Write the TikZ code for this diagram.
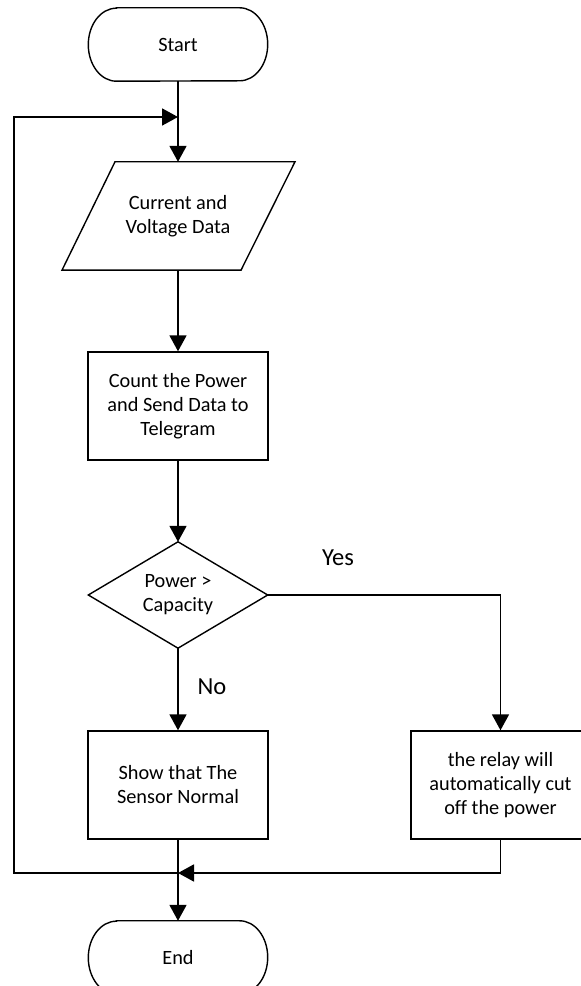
\documentclass[tikz,border=0pt]{standalone}
\usepackage{fontspec}
\setmainfont{Carlito}[Ligatures=NoCommon]
\usetikzlibrary{arrows.meta}
\begin{document}
\begin{tikzpicture}[x=1pt,y=1pt,
  shapeline/.style={draw=black, line width=1.4pt, line join=miter},
  txt/.style={font=\fontsize{20.3}{24}\selectfont, align=center, inner sep=0pt, text=black},
  boxnode/.style={txt, draw=black, line width=1.4pt, minimum width=180pt, minimum height=108pt},
  ghost/.style={txt, minimum width=180pt, minimum height=108pt},
  termnode/.style={txt, minimum width=179pt, minimum height=73pt},
  conn/.style={line width=1.8pt, draw=black, -{Triangle[length=16pt,width=17pt]}},
  lab/.style={font=\fontsize{24.5}{29}\selectfont, inner sep=0pt, text=black}]
\useasboundingbox (0,0) rectangle (581,986);
\clip (0,0) rectangle (581,986);
\fill[white] (0,0) rectangle (581,986);

% nodes
\node[termnode] (start) at (178,941.5) {Start};
\node[ghost] (data) at (178,770) {Current and\\Voltage Data};
\node[boxnode] (count) at (178,580) {Count the Power\\and Send Data to\\Telegram};
\node[ghost, minimum width=179pt, minimum height=106pt] (dec) at (178,391) {Power >\\Capacity};
\node[boxnode] (show) at (178,201) {Show that The\\Sensor Normal};
\node[boxnode, minimum width=179pt] (relay) at (500.5,201) {the relay will\\automatically cut\\off the power};
\node[termnode] (stop) at (178,28.5) {End};
\node[lab] (yes) at (338,428) {Yes};
\node[lab] (no) at (212,299) {No};

% outlines
\draw[shapeline] ([xshift=28pt]start.north west) -- ([xshift=-28pt]start.north east)
  arc[start angle=90, end angle=-90, x radius=28pt, y radius=36.5pt]
  -- ([xshift=28pt]start.south west)
  arc[start angle=270, end angle=90, x radius=28pt, y radius=36.5pt] -- cycle;
\draw[shapeline] ([xshift=28pt]stop.north west) -- ([xshift=-28pt]stop.north east)
  arc[start angle=90, end angle=-90, x radius=28pt, y radius=36.5pt]
  -- ([xshift=28pt]stop.south west)
  arc[start angle=270, end angle=90, x radius=28pt, y radius=36.5pt] -- cycle;
\draw[shapeline] ([xshift=-63pt]data.north) -- ([xshift=117pt]data.north)
  -- ([xshift=63pt]data.south) -- ([xshift=-116pt]data.south) -- cycle;
\draw[shapeline] (dec.north) -- (dec.east) -- (dec.south) -- (dec.west) -- cycle;

% coordinates
\coordinate (loopjoin) at (178,869);
\coordinate (merge) at (178,113);
\coordinate (loopleft) at (14,500);

% connectors
\draw[conn] (start.south) -- (data.north);
\draw[conn] (data.south) -- (count.north);
\draw[conn] (count.south) -- (dec.north);
\draw[conn] (dec.south) -- (show.north);
\draw[conn] (dec.east) -| (relay.north);
\draw[conn] (show.south) -- (stop.north);
\draw[conn] (relay.south) |- (merge);
\draw[conn] (merge) -| (loopleft) |- (loopjoin);
\end{tikzpicture}
\end{document}
